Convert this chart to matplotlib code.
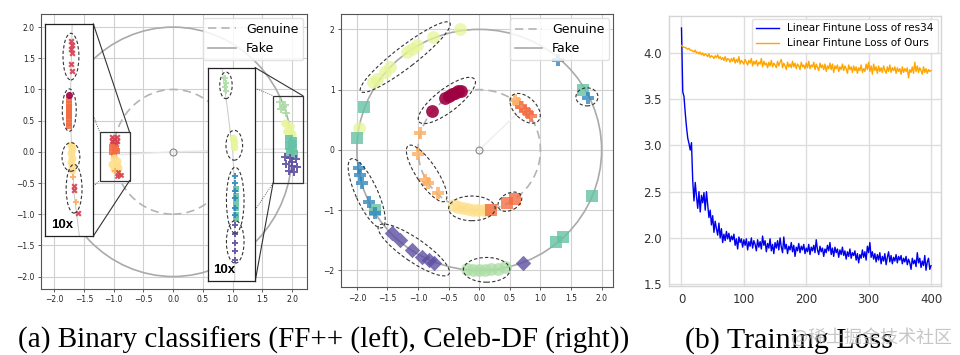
import numpy as np
import matplotlib
matplotlib.use("Agg")
import matplotlib.pyplot as plt
from matplotlib.patches import Ellipse, Circle, Rectangle
from matplotlib.lines import Line2D

# ================================================================
# DATA
# ================================================================
# Spectral class colours
c_dred, c_red, c_orng, c_lorng = '#9e0142', '#d53e4f', '#f46d43', '#fdae61'
c_yell, c_pale, c_lgrn = '#fee08b', '#e6f598', '#abdda4'
c_teal, c_blue, c_purp = '#66c2a5', '#3288bd', '#5e4fa2'

# --- FF++ (left) : points inside the two small boxes (data coords)
ff_red_x = [(-1.03, 0.24), (-0.95, 0.24), (-1.03, 0.17), (-0.95, 0.17), (-0.99, 0.20),
            (-1.01, 0.12), (-0.96, 0.12)]
ff_orng_s = [(-1.03, 0.08), (-0.96, 0.06), (-1.03, 0.00), (-0.95, 0.01), (-1.00, -0.05),
             (-0.98, 0.03)]
ff_yell_o = [(-1.00, -0.10), (-0.94, -0.15), (-1.02, -0.19), (-0.95, -0.22), (-0.92, -0.26),
             (-0.99, -0.27)]
ff_lorng_p = [(-0.97, -0.31), (-0.90, -0.35)]
ff_red_x2 = [(-0.95, -0.38), (-0.87, -0.37), (-0.92, -0.33)]
ff_lgrn_p = [(1.80, 0.80), (1.88, 0.75), (1.82, 0.68), (1.90, 0.63), (1.85, 0.72)]
ff_pale_o = [(1.88, 0.46), (1.96, 0.41), (1.91, 0.33), (1.99, 0.29), (1.94, 0.37)]
ff_teal_s = [(1.94, 0.20), (2.02, 0.18), (1.95, 0.10), (2.02, 0.06), (1.96, -0.01),
             (2.03, -0.04), (1.99, 0.13)]
ff_purp_p = [(1.88, -0.08), (1.97, -0.10), (2.06, -0.12), (1.90, -0.20),
             (2.00, -0.22), (2.08, -0.24), (1.94, -0.30), (2.03, -0.33), (1.99, -0.16)]

# --- FF++ left inset (10x), local 0..1 coords
li_red_x = [(0.54, 0.92), (0.56, 0.90), (0.53, 0.88), (0.55, 0.865), (0.53, 0.81), (0.55, 0.78)]
li_dred_o = [(0.50, 0.665)]
li_orng_s = [(0.50, 0.64), (0.50, 0.625), (0.50, 0.61), (0.50, 0.595), (0.50, 0.58),
             (0.50, 0.565), (0.50, 0.55), (0.50, 0.535), (0.50, 0.52)]
li_yell_o = [(0.54, 0.43), (0.55, 0.41), (0.54, 0.39), (0.55, 0.37), (0.54, 0.35),
             (0.55, 0.33), (0.55, 0.31)]
li_lorng_p = [(0.57, 0.28), (0.63, 0.16)]
li_red_x2 = [(0.59, 0.235), (0.60, 0.215), (0.68, 0.11)]
li_ellipses = [(0.535, 0.846, 0.33, 0.22), (0.50, 0.594, 0.29, 0.20),
               (0.535, 0.373, 0.37, 0.135), (0.60, 0.223, 0.33, 0.23)]
li_arc = [(0.56, 1.0), (0.54, 0.8), (0.52, 0.6), (0.55, 0.4), (0.60, 0.2), (0.71, 0.0)]

# --- FF++ right inset (10x), local 0..1 coords
ri_lgrn_p = [(0.37, 0.95), (0.38, 0.93), (0.37, 0.91), (0.39, 0.89)]
ri_pale_o = [(0.54, 0.67), (0.55, 0.65), (0.55, 0.63)]
ri_blue_p = [(0.57, 0.49), (0.58, 0.46), (0.58, 0.42), (0.57, 0.39), (0.58, 0.34), (0.58, 0.31)]
ri_teal_s = [(0.59, 0.43), (0.59, 0.40), (0.59, 0.37), (0.59, 0.34), (0.59, 0.31), (0.59, 0.29)]
ri_purp_p = [(0.57, 0.26), (0.58, 0.22), (0.57, 0.18), (0.58, 0.14), (0.57, 0.10)]
ri_ellipses = [(0.385, 0.917, 0.26, 0.125), (0.56, 0.636, 0.35, 0.14),
               (0.58, 0.378, 0.37, 0.31), (0.58, 0.183, 0.37, 0.20)]
ri_arc = [(0.30, 1.0), (0.42, 0.8), (0.53, 0.6), (0.57, 0.4), (0.57, 0.0)]

# --- Celeb-DF (middle)
cd_pale_o = [(-1.73, 1.13), (-1.67, 1.17), (-1.54, 1.30), (-1.46, 1.37), (-1.18, 1.63),
             (-1.10, 1.68), (-1.02, 1.74), (-0.75, 1.88), (-0.31, 2.00), (-1.97, 0.36)]
cd_dred_o = [(-0.78, 0.64), (-0.56, 0.86), (-0.50, 0.89), (-0.45, 0.92), (-0.40, 0.95),
             (-0.34, 0.97), (-0.30, 0.97)]
cd_orng_p = [(0.69, 0.72), (0.74, 0.66), (0.79, 0.62), (0.85, 0.56)]
cd_lorng_p = [(0.59, 0.83), (0.64, 0.78), (-0.97, 0.28), (-1.00, -0.07),
              (-0.88, -0.50), (-0.84, -0.55), (-0.67, -0.72)]
cd_yell_o = [(-0.42, -0.91), (-0.34, -0.94), (-0.26, -0.97), (-0.18, -0.98), (-0.10, -0.99),
             (-0.02, -1.00), (0.07, -0.99), (0.14, -1.00)]
cd_orng_s = [(0.20, -0.99), (0.45, -0.88), (0.58, -0.81)]
cd_blue_p = [(-1.97, -0.30), (-1.95, -0.41), (-1.92, -0.55), (-1.81, -0.86), (-1.70, -1.05),
             (1.78, 0.86), (1.29, 1.50)]
cd_teal_s = [(-1.89, 0.72), (-2.00, 0.19), (-1.70, -0.99), (1.70, 1.00), (1.84, -0.77),
             (1.37, -1.44), (1.26, -1.52)]
cd_purp_d = [(-1.43, -1.38), (-1.29, -1.49), (-1.10, -1.66), (-0.94, -1.77), (-0.82, -1.83),
             (-0.74, -1.87), (0.71, -1.87)]
cd_lgrn_o = [(-0.20, -1.97), (-0.10, -1.99), (0.00, -2.00), (0.10, -1.99), (0.20, -1.98),
             (0.30, -1.97), (0.42, -1.95)]
# (cx, cy, width, height, angle)
cd_ellipses = [(-1.21, 1.54, 1.85, 0.35, 38), (-0.53, 0.82, 1.15, 0.38, 38),
               (0.75, 0.69, 0.60, 0.36, -45), (-0.86, -0.39, 1.10, 0.34, -57),
               (-0.12, -0.97, 0.76, 0.41, 0), (0.50, -0.86, 0.42, 0.28, 30),
               (-1.84, -0.72, 1.25, 0.36, -66), (-1.07, -1.66, 1.40, 0.38, -35),
               (0.12, -1.99, 0.76, 0.41, 0), (1.76, 0.88, 0.36, 0.30, 0)]

# --- Training loss (read every 2 epochs)
loss_epochs = list(range(0, 401, 2))
loss_res34 = [4.27, 3.58, 3.53, 3.35, 3.20, 3.08, 3.02, 2.95, 3.03, 2.62,
              2.40, 2.60, 2.45, 2.32, 2.50, 2.28, 2.46, 2.38, 2.49, 2.30,
              2.50, 2.36, 2.22, 2.30, 2.14, 2.24, 2.06, 2.18, 2.10, 2.03,
              2.16, 2.00, 2.10, 1.95, 2.04, 1.97, 2.07, 1.99, 2.05, 1.96,
              2.02, 1.98, 2.04, 1.92, 1.99, 1.88, 2.01, 1.95, 1.99, 1.90,
              1.98, 1.92, 1.99, 1.87, 1.96, 1.91, 2.00, 1.89, 1.97, 1.93,
              1.86, 1.98, 1.90, 1.96, 1.88, 2.02, 1.92, 1.97, 1.85, 1.94,
              1.89, 1.99, 1.86, 1.93, 1.83, 1.95, 1.89, 1.97, 1.87, 2.00,
              1.90, 1.84, 2.01, 1.88, 1.93, 1.83, 1.91, 1.87, 1.95, 1.85,
              1.92, 1.80, 1.90, 1.86, 1.94, 1.84, 1.91, 1.87, 1.93, 1.83,
              1.89, 1.85, 1.93, 1.82, 1.90, 1.86, 1.92, 1.84, 1.98, 1.87,
              1.82, 1.91, 1.85, 1.89, 1.80, 1.88, 1.84, 1.92, 1.86, 1.95,
              1.82, 1.89, 1.80, 1.90, 1.84, 1.88, 1.79, 1.87, 1.82, 1.90,
              1.81, 1.86, 1.77, 1.85, 1.80, 1.88, 1.78, 1.84, 1.81, 1.86,
              1.76, 1.83, 1.73, 1.82, 1.78, 1.87, 1.79, 1.85, 1.76, 1.91,
              1.84, 1.95, 1.79, 1.85, 1.77, 1.83, 1.74, 1.82, 1.76, 1.84,
              1.72, 1.80, 1.75, 1.83, 1.71, 1.79, 1.85, 1.74, 1.81, 1.72,
              1.79, 1.75, 1.82, 1.73, 1.80, 1.76, 1.81, 1.72, 1.78, 1.74,
              1.80, 1.71, 1.77, 1.73, 1.66, 1.78, 1.72, 1.76, 1.69, 1.84,
              1.73, 1.78, 1.68, 1.75, 1.70, 1.81, 1.65, 1.74, 1.78, 1.66,
              1.70]
loss_ours = [4.08, 4.07, 4.06, 4.06, 4.05, 4.04, 4.05, 4.03, 4.03, 4.02,
             4.01, 4.03, 4.00, 4.01, 3.99, 4.01, 3.98, 4.00, 3.97, 3.99,
             3.98, 3.96, 3.99, 3.95, 3.97, 3.96, 3.94, 3.97, 3.95, 3.98,
             3.94, 3.96, 3.93, 3.95, 3.92, 3.96, 3.91, 3.94, 3.93, 3.90,
             3.94, 3.91, 3.95, 3.89, 3.93, 3.90, 3.96, 3.88, 3.92, 3.90,
             3.88, 3.93, 3.90, 3.87, 3.92, 3.89, 3.94, 3.86, 3.91, 3.88,
             3.92, 3.86, 3.90, 3.88, 3.94, 3.85, 3.91, 3.87, 3.89, 3.84,
             3.90, 3.86, 3.92, 3.85, 3.89, 3.87, 3.84, 3.91, 3.86, 3.90,
             3.93, 3.84, 3.89, 3.86, 3.82, 3.90, 3.85, 3.88, 3.84, 3.91,
             3.85, 3.89, 3.83, 3.88, 3.86, 3.82, 3.90, 3.85, 3.87, 3.83,
             3.89, 3.84, 3.91, 3.83, 3.87, 3.85, 3.90, 3.82, 3.88, 3.84,
             3.81, 3.89, 3.84, 3.87, 3.82, 3.88, 3.80, 3.86, 3.83, 3.89,
             3.82, 3.88, 3.79, 3.86, 3.83, 3.87, 3.80, 3.85, 3.82, 3.88,
             3.81, 3.86, 3.83, 3.78, 3.87, 3.82, 3.85, 3.79, 3.86, 3.81,
             3.85, 3.78, 3.84, 3.81, 3.87, 3.79, 3.83, 3.80, 3.88, 3.82,
             3.90, 3.80, 3.86, 3.77, 3.88, 3.81, 3.85, 3.78, 3.86, 3.80,
             3.84, 3.79, 3.86, 3.81, 3.78, 3.85, 3.80, 3.87, 3.79, 3.84,
             3.81, 3.85, 3.78, 3.84, 3.80, 3.83, 3.77, 3.85, 3.79, 3.83,
             3.80, 3.84, 3.73, 3.82, 3.79, 3.85, 3.78, 3.90, 3.80, 3.86,
             3.79, 3.84, 3.81, 3.77, 3.85, 3.79, 3.83, 3.78, 3.82, 3.80,
             3.81]

caption_a = '(a) Binary classifiers (FF++ (left), Celeb-DF (right))'
caption_b = '(b) Training Loss'
watermark = '@稀土掘金技术社区'


# ================================================================
# HELPERS
# ================================================================
def scatter(ax, pts, color, marker, s, alpha=0.8, z=3):
    xs = [p[0] for p in pts]
    ys = [p[1] for p in pts]
    ax.scatter(xs, ys, s=s, c=color, marker=marker, alpha=alpha,
               linewidths=0, zorder=z)


def dashed_ellipse(ax, cx, cy, w, h, ang=0):
    ax.add_patch(Ellipse((cx, cy), w, h, angle=ang, fill=False, ec='#333333',
                         lw=0.8, ls=(0, (3, 2)), zorder=4))


def circle_axes(ax, xlim, ylim, yticks, ylabels):
    ax.set_xlim(*xlim)
    ax.set_ylim(*ylim)
    ax.set_xticks([-2.0, -1.5, -1.0, -0.5, 0.0, 0.5, 1.0, 1.5, 2.0])
    ax.set_yticks(yticks)
    ax.set_yticklabels(ylabels)
    ax.grid(True, color='#d0d0d0', lw=0.8)
    ax.set_axisbelow(True)
    ax.tick_params(labelsize=5.5, length=2.5, width=0.6, color='#444444',
                   labelcolor='#222222', pad=2)
    for sp in ax.spines.values():
        sp.set_color('#555555')
        sp.set_linewidth(0.8)
    # Genuine / Fake hyperspheres
    ax.add_patch(Circle((0, 0), 2, fill=False, ec='#aaaaaa', lw=1.2, zorder=2))
    ax.add_patch(Circle((0, 0), 1, fill=False, ec='#b4b4b4', lw=1.2,
                        ls=(0, (5, 3)), zorder=2))
    ax.plot([0], [0], 'o', ms=5, mfc='none', mec='#888888', mew=0.8, zorder=3)
    handles = [Line2D([], [], color='#b4b4b4', lw=1.2, ls=(0, (5, 3))),
               Line2D([], [], color='#aaaaaa', lw=1.2)]
    leg = ax.legend(handles, ['Genuine', 'Fake'], loc='upper right', fontsize=9,
                    borderaxespad=0.3, framealpha=0.85, handlelength=2.2)
    leg.get_frame().set_edgecolor('#dddddd')
    leg.set_zorder(10)


def make_inset(ax, x0, y0, x1, y1):
    ins = ax.inset_axes([x0, y0, x1 - x0, y1 - y0], transform=ax.transData, zorder=6)
    ins.set_xlim(0, 1)
    ins.set_ylim(0, 1)
    ins.set_xticks([])
    ins.set_yticks([])
    for sp in ins.spines.values():
        sp.set_color('#222222')
        sp.set_linewidth(0.9)
    ins.text(0.12, 0.025, '10x', fontsize=9.5, fontweight='bold',
             family='Liberation Sans', ha='left', va='bottom')
    return ins


# ================================================================
# FIGURE
# ================================================================
fig = plt.figure(figsize=(9.6, 3.55), dpi=100)

# ---------------- FF++ ----------------
ax1 = fig.add_axes([0.0427, 0.1859, 0.2771, 0.7746])
circle_axes(ax1, (-2.22, 2.25), (-2.20, 2.21),
            [-2.0, -1.5, -1.0, -0.5, 0.0, 0.5, 1.0, 1.5, 2.0],
            ['−2.0', '−1.5', '−1.0', '−0.5', '0.0', '0.5', '1.0', '1.5', '2.0'])
ax1.plot([0, -1.0], [0, -0.05], color='#e8e8e8', lw=1.0, zorder=2)
ax1.plot([0, 1.95], [0, 0.05], color='#e8e8e8', lw=1.0, zorder=2)

scatter(ax1, ff_red_x, c_red, 'X', 20, alpha=0.9)
scatter(ax1, ff_orng_s, c_orng, 's', 20, alpha=0.9)
scatter(ax1, ff_yell_o, c_yell, 'o', 34, alpha=0.9)
scatter(ax1, ff_lorng_p, c_lorng, 'P', 20, alpha=0.9)
scatter(ax1, ff_red_x2, c_red, 'X', 16, alpha=0.9)
scatter(ax1, ff_lgrn_p, c_lgrn, 'P', 32, alpha=0.9)
scatter(ax1, ff_pale_o, c_pale, 'o', 36, alpha=0.9)
scatter(ax1, ff_teal_s, c_teal, 's', 28, alpha=0.9)
scatter(ax1, ff_purp_p, c_purp, 'P', 32, alpha=0.9)

# zoom boxes, connectors
ax1.add_patch(Rectangle((-1.23, -0.46), 0.50, 0.77, fill=False, ec='#333333', lw=0.9, zorder=5))
ax1.add_patch(Rectangle((1.68, -0.50), 0.50, 1.40, fill=False, ec='#333333', lw=0.9, zorder=5))
ax1.plot([-1.34, -0.73], [2.05, 0.31], color='#333333', lw=0.8, zorder=5)
ax1.plot([-1.34, -0.73], [-1.35, -0.46], color='#333333', lw=0.8, zorder=5)
ax1.plot([-1.34, -1.23], [0.58, 0.31], color='#333333', lw=0.6, ls=':', zorder=5)
ax1.plot([-1.34, -1.23], [-0.55, -0.46], color='#333333', lw=0.6, ls=':', zorder=5)
ax1.plot([1.38, 2.18], [1.35, 0.90], color='#333333', lw=0.8, zorder=5)
ax1.plot([1.38, 1.68], [-2.07, -0.50], color='#333333', lw=0.8, zorder=5)
ax1.plot([1.38, 1.68], [1.02, 0.90], color='#333333', lw=0.6, ls=':', zorder=5)
ax1.plot([1.38, 1.68], [-0.93, -0.50], color='#333333', lw=0.6, ls=':', zorder=5)

# left 10x inset
ins_l = make_inset(ax1, -2.15, -1.35, -1.34, 2.05)
ins_l.plot([p[0] for p in li_arc], [p[1] for p in li_arc], color='#c8c8c8', lw=0.7, zorder=1)
scatter(ins_l, li_red_x, c_red, 'X', 20, alpha=0.9)
scatter(ins_l, li_orng_s, c_orng, 's', 22, alpha=0.9)
scatter(ins_l, li_dred_o, c_dred, 'o', 26, alpha=0.9)
scatter(ins_l, li_yell_o, c_yell, 'o', 32, alpha=0.9)
scatter(ins_l, li_lorng_p, c_lorng, 'P', 20, alpha=0.9)
scatter(ins_l, li_red_x2, c_red, 'X', 20, alpha=0.9)
for cx, cy, w, h in li_ellipses:
    dashed_ellipse(ins_l, cx, cy, w, h)

# right 10x inset
ins_r = make_inset(ax1, 0.58, -2.07, 1.38, 1.35)
ins_r.plot([p[0] for p in ri_arc], [p[1] for p in ri_arc], color='#c8c8c8', lw=0.7, zorder=1)
scatter(ins_r, ri_lgrn_p, c_lgrn, 'P', 22, alpha=0.9)
scatter(ins_r, ri_pale_o, c_pale, 'o', 30, alpha=0.9)
scatter(ins_r, ri_teal_s, c_teal, 's', 22, alpha=0.9)
scatter(ins_r, ri_blue_p, c_blue, 'P', 22, alpha=0.9)
scatter(ins_r, ri_purp_p, c_purp, 'P', 24, alpha=0.9)
for cx, cy, w, h in ri_ellipses:
    dashed_ellipse(ins_r, cx, cy, w, h)

# ---------------- Celeb-DF ----------------
ax2 = fig.add_axes([0.3552, 0.1907, 0.2836, 0.769])
circle_axes(ax2, (-2.26, 2.19), (-2.28, 2.25),
            [-2, -1, 0, 1, 2], ['−2', '−1', '0', '1', '2'])
ax2.plot([0, 0.72], [0, 0.70], color='#eeeeee', lw=1.0, zorder=2)

scatter(ax2, cd_pale_o, c_pale, 'o', 85, alpha=0.75)
scatter(ax2, cd_dred_o, c_dred, 'o', 85, alpha=0.9)
scatter(ax2, cd_lorng_p, c_lorng, 'P', 75)
scatter(ax2, cd_orng_p, c_orng, 'P', 75)
scatter(ax2, cd_yell_o, c_yell, 'o', 85, alpha=0.75)
scatter(ax2, cd_orng_s, c_orng, 's', 75)
scatter(ax2, cd_teal_s, c_teal, 's', 75)
scatter(ax2, cd_blue_p, c_blue, 'P', 75)
scatter(ax2, cd_purp_d, c_purp, 'D', 62)
scatter(ax2, cd_lgrn_o, c_lgrn, 'o', 85, alpha=0.75)
for cx, cy, w, h, ang in cd_ellipses:
    dashed_ellipse(ax2, cx, cy, w, h, ang)

# ---------------- Training loss ----------------
ax3 = fig.add_axes([0.6969, 0.1944, 0.2833, 0.7606])
ax3.plot(loss_epochs, loss_res34, color='#0000ee', lw=1.0,
         label='Linear Fintune Loss of res34')
ax3.plot(loss_epochs, loss_ours, color='#ffa500', lw=1.0,
         label='Linear Fintune Loss of Ours')
ax3.set_xlim(-20, 416)
ax3.set_ylim(1.48, 4.40)
ax3.set_xticks([0, 100, 200, 300, 400])
ax3.set_yticks([1.5, 2.0, 2.5, 3.0, 3.5, 4.0])
ax3.grid(True, color='#dddddd', lw=1.0)
ax3.set_axisbelow(True)
ax3.tick_params(labelsize=8.5, length=0, labelcolor='#333333', pad=5)
for sp in ax3.spines.values():
    sp.set_color('#d5d5d5')
    sp.set_linewidth(1.0)
leg3 = ax3.legend(loc='upper right', fontsize=7.5, borderaxespad=0.3,
                  framealpha=0.9, handlelength=2.2)
leg3.get_frame().set_edgecolor('#dddddd')

# ---------------- captions ----------------
fig.text(0.337, 0.022, caption_a, family='Liberation Serif', fontsize=21,
         ha='center', va='baseline')
fig.text(0.822, 0.022, caption_b, family='Liberation Serif', fontsize=21.5,
         ha='center', va='baseline')
fig.text(0.992, 0.05, watermark, family=['Noto Sans CJK SC', 'DejaVu Sans'],
         fontsize=13, color='#b8b8b8', alpha=0.8, ha='right', va='center')

fig.savefig('out.png', dpi=100)
